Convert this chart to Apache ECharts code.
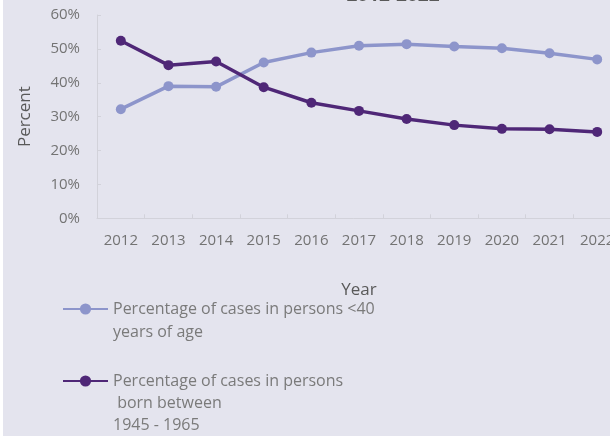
<!DOCTYPE html>
<html>
<head>
<meta charset="utf-8">
<script src="https://cdn.jsdelivr.net/npm/echarts@6/dist/echarts.min.js"></script>
<style>
html,body{margin:0;padding:0;background:#fff;}
#c{width:610px;height:436px;}
</style>
</head>
<body>
<div id="c"></div>
<script>
const years = ['2012','2013','2014','2015','2016','2017','2018','2019','2020','2021','2022'];
const under40 = [32.2, 39.0, 38.8, 46.0, 48.9, 50.9, 51.4, 50.7, 50.2, 48.7, 46.9];
const born4565 = [52.4, 45.2, 46.3, 38.7, 34.1, 31.7, 29.3, 27.5, 26.4, 26.3, 25.5];
const yTicks = [0, 10, 20, 30, 40, 50, 60];
const name1 = 'Percentage of cases in persons <40\nyears of age';
const name2 = 'Percentage of cases in persons\n born between\n1945 - 1965';
const titleText = '2012-2022';

const lightColor = '#8d95cb';
const darkColor = '#4f2777';
const font = 'Open Sans';

const chart = echarts.init(document.getElementById('c'), null, {renderer: 'canvas'});
chart.setOption({
  backgroundColor: '#e4e4ee',
  animation: false,
  textStyle: {fontFamily: font},
  title: {
    text: titleText, left: 388, textAlign: 'center', top: -19,
    textStyle: {fontSize: 19, fontWeight: 'bold', color: '#595959', fontFamily: font}
  },
  graphic: [{type: 'rect', left: 0, top: 0, shape: {width: 3, height: 436}, style: {fill: '#ffffff'}}],
  grid: {left: 97, width: 524, top: 15, height: 203.3, containLabel: false, outerBoundsMode: 'none'},
  legend: [
    {
      data: [name1],
      formatter: function (n) { return '\n' + n; },
      left: 62, top: 274.5, padding: 0, orient: 'vertical',
      itemWidth: 45, itemHeight: 14,
      textStyle: {fontSize: 16, color: '#7a7a7a', lineHeight: 23, fontFamily: font}
    },
    {
      data: [name2],
      formatter: function (n) { return '\n\n' + n; },
      left: 62, top: 326, padding: 0, orient: 'vertical',
      itemWidth: 45, itemHeight: 14,
      textStyle: {fontSize: 16, color: '#7a7a7a', lineHeight: 22, fontFamily: font}
    }
  ],
  xAxis: {
    type: 'category', data: years, boundaryGap: true,
    name: 'Year', nameLocation: 'middle', nameGap: 63,
    nameTextStyle: {fontSize: 17, color: '#595959', fontFamily: font},
    axisLine: {show: true, lineStyle: {color: '#d2d2da', width: 1}},
    axisTick: {show: true, inside: true, length: 4, lineStyle: {color: '#d2d2da'}},
    axisLabel: {fontSize: 15, color: '#737373', margin: 15, fontFamily: font, hideOverlap: false},
    splitLine: {show: false}
  },
  yAxis: {
    type: 'value', min: yTicks[0], max: yTicks[yTicks.length - 1], interval: 10,
    name: 'Percent', nameLocation: 'middle', nameGap: 63,
    nameTextStyle: {fontSize: 17, color: '#595959', fontFamily: font},
    axisLine: {show: true, lineStyle: {color: '#d2d2da', width: 1}},
    axisTick: {show: true, inside: true, length: 4, lineStyle: {color: '#d2d2da'}},
    axisLabel: {fontSize: 15, color: '#737373', margin: 17, formatter: '{value}%', fontFamily: font},
    splitLine: {show: false}
  },
  series: [
    {
      name: name1, type: 'line', data: under40,
      symbol: 'circle', symbolSize: 10,
      lineStyle: {color: lightColor, width: 3.5},
      itemStyle: {color: lightColor}
    },
    {
      name: name2, type: 'line', data: born4565,
      symbol: 'circle', symbolSize: 10,
      lineStyle: {color: darkColor, width: 3.5},
      itemStyle: {color: darkColor}
    }
  ]
});
</script>
</body>
</html>
